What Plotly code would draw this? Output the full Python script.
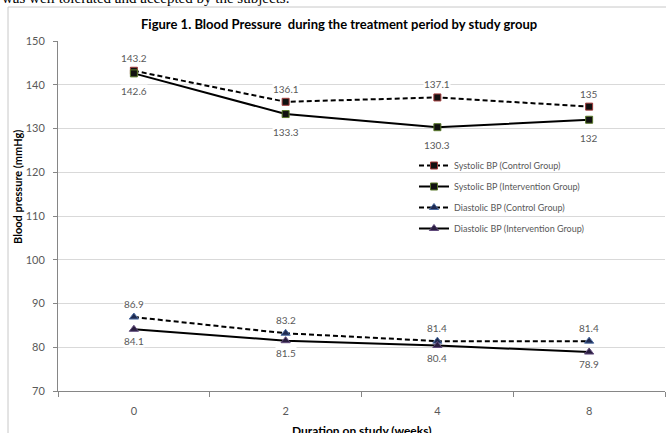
import plotly.graph_objects as go

weeks = ["0", "2", "4", "8"]
sys_control = [143.2, 136.1, 137.1, 135]
sys_interv = [142.6, 133.3, 130.3, 132]
dia_control = [86.9, 83.2, 81.4, 81.4]
dia_interv = [84.1, 81.5, 80.4, 78.9]

series_names = [
    "Systolic BP (Control Group)",
    "Systolic BP (Intervention Group)",
    "Diastolic BP (Control Group)",
    "Diastolic BP (Intervention Group)",
]

W, H = 666, 433
ML, MR, MT, MB = 58, 1, 41, 42
PW, PH = W - ML - MR, H - MT - MB


def px_x(p):
    return (p - ML) / PW


def px_y(p):
    return (H - MB - p) / PH


styles = [
    dict(dash="5px,3px", symbol="square", fill="#111111", edge="#a23b3b", size=7, shift=13),
    dict(dash="solid", symbol="square", fill="#111111", edge="#5a7a2a", size=7, shift=-18),
    dict(dash="5px,3px", symbol="triangle-up", fill="#1f2a50", edge="#4a6aa0", size=8, shift=13),
    dict(dash="solid", symbol="triangle-up", fill="#2a1f40", edge="#604a7b", size=8, shift=-12),
]
data = [sys_control, sys_interv, dia_control, dia_interv]

fig = go.Figure()
annotations = []
for i, (name, vals, st) in enumerate(zip(series_names, data, styles)):
    fig.add_trace(go.Scatter(
        x=weeks, y=vals, name=name, mode="lines+markers",
        legendgroup=f"g{i}",
        line=dict(color="#000000", width=2, dash=st["dash"]),
        marker=dict(symbol=st["symbol"], size=st["size"], color=st["fill"],
                    line=dict(color=st["edge"], width=1)),
        hoverinfo="skip",
    ))
    for k, v in enumerate(vals):
        annotations.append(dict(
            x=k, y=v, xref="x", yref="y", text=f"{v:g}", showarrow=False,
            yshift=st["shift"], font=dict(family="Lato", size=10, color="#595959"),
            bgcolor="white", borderpad=0,
        ))

annotations += [
    dict(text="was well tolerated and accepted by the subjects.", xref="paper", yref="paper",
         x=px_x(0), y=px_y(-2), xanchor="left", yanchor="middle", showarrow=False,
         font=dict(family="Liberation Serif", size=15, color="#000000")),
    dict(text="<b>Figure 1. Blood Pressure  during the treatment period by study group</b>",
         xref="paper", yref="paper", x=px_x(339), y=px_y(24), xanchor="center", yanchor="middle",
         showarrow=False, font=dict(family="Lato", size=13, color="#000000")),
    dict(text="<b>Duration on study (weeks)</b>", xref="paper", yref="paper",
         x=px_x(362), y=px_y(430), xanchor="center", yanchor="middle", showarrow=False,
         font=dict(family="Lato", size=12, color="#000000")),
    dict(text="<b>Blood pressure (mmHg)</b>", xref="paper", yref="paper",
         x=px_x(17), y=px_y(187), xanchor="center", yanchor="middle", showarrow=False,
         textangle=-90, font=dict(family="Lato", size=11, color="#000000")),
]

shapes = [
    dict(type="line", xref="paper", yref="paper", x0=px_x(8), x1=px_x(8), y0=px_y(7), y1=px_y(450),
         line=dict(color="#c8c8c8", width=1)),
    dict(type="line", xref="paper", yref="paper", x0=px_x(8), x1=px_x(680), y0=px_y(7), y1=px_y(7),
         line=dict(color="#c8c8c8", width=1)),
]

fig.update_layout(
    width=W, height=H,
    margin=dict(l=ML, r=MR, t=MT, b=MB),
    paper_bgcolor="white", plot_bgcolor="white",
    font=dict(family="Lato", color="#595959"),
    annotations=annotations,
    shapes=shapes,
    legend=dict(
        x=px_x(414), y=px_y(151), xanchor="left", yanchor="top",
        font=dict(family="Lato", size=9, color="#595959"),
        bgcolor="rgba(0,0,0,0)", itemwidth=30, tracegroupgap=2,
    ),
    xaxis=dict(
        type="category", range=[-0.5, 3.5], showgrid=False,
        showline=True, linecolor="#868686", linewidth=1,
        ticks="outside", tickson="boundaries", ticklen=5, tickcolor="#868686",
        tickfont=dict(family="Lato", size=11, color="#595959"),
        ticklabelstandoff=10, fixedrange=True,
    ),
    yaxis=dict(
        range=[70, 150], dtick=10, showgrid=True, gridcolor="#d9d9d9", gridwidth=1,
        showline=True, linecolor="#868686", linewidth=1, zeroline=False,
        ticks="outside", ticklen=4, tickcolor="#868686",
        tickfont=dict(family="Lato", size=11, color="#595959"),
        ticklabelstandoff=6, fixedrange=True,
    ),
)

fig.write_html(
    "out.html",
    config={"displayModeBar": False},
    post_script="document.body.style.margin='0';document.body.style.overflow='hidden';",
)
